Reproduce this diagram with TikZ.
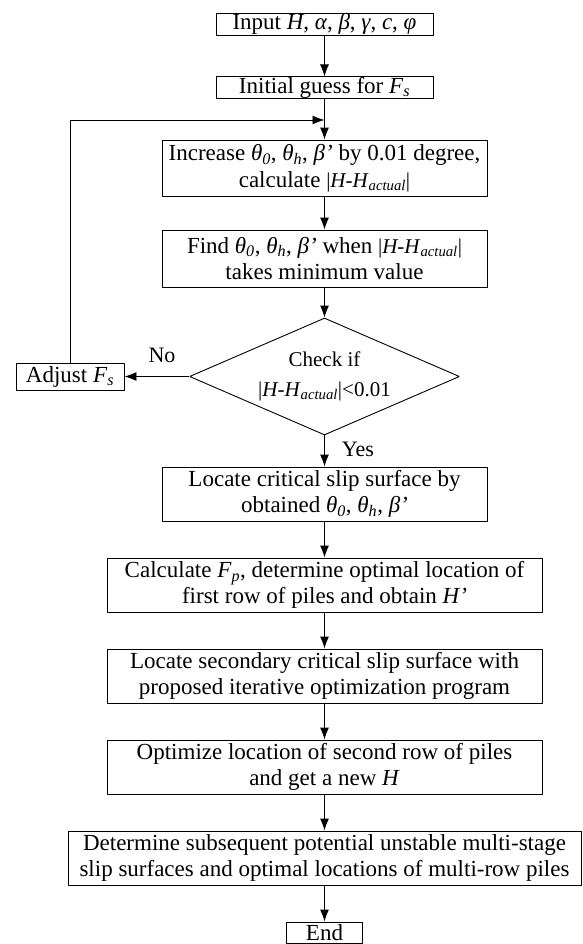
\documentclass[tikz,border=0pt]{standalone}
\usepackage{fontspec}
\setmainfont{Liberation Serif}
\usetikzlibrary{arrows.meta}
\usetikzlibrary{shapes.geometric}
\newcommand{\hdiff}{{\fontsize{21bp}{26bp}\selectfont|\textit{H-H}\textsubscript{\textit{actual}}|}}
\newcommand{\angset}{\textit{θ}\textsubscript{\textit{0}}, \textit{θ}\textsubscript{\textit{h}}, \textit{β’}}

\begin{document}
\begin{tikzpicture}[>={Latex[length=12bp,width=9bp]},line join=bevel,
  procbox/.style={draw,line width=0.9bp,inner sep=0pt,align=center,font=\fontsize{23bp}{26.5bp}\selectfont},
  decbox/.style={draw,diamond,shape aspect=2.3,line width=0.9bp,inner sep=0pt,align=center,font=\fontsize{21bp}{30bp}\selectfont},
  flow/.style={->,line width=0.9bp},
  lbl/.style={font=\fontsize{22bp}{26bp}\selectfont}]
\useasboundingbox (0bp,0bp) rectangle (583bp,-944bp);
%%
\node (n_input) at (324.5bp,-24bp) [procbox,minimum width=217bp,minimum height=22bp] {Input \textit{H}, \textit{α}, \textit{β}, \textit{γ}, \textit{c}, \textit{φ}};
  \node (n_guess) at (324.5bp,-87.5bp) [procbox,minimum width=217bp,minimum height=21bp] {Initial guess for \textit{F}\textsubscript{\textit{s}}};
  \node (n_incr) at (324.5bp,-168bp) [procbox,minimum width=325bp,minimum height=56bp] {Increase \angset{} by 0.01 degree,\\calculate \hdiff};
  \node (n_find) at (324.5bp,-258.5bp) [procbox,minimum width=325bp,minimum height=57bp] {Find \angset{} when \hdiff\\takes minimum value};
  \node (n_check) at (324.5bp,-376.5bp) [decbox,minimum width=270bp,minimum height=117bp] {Check if\\\hdiff<0.01};
  \node (n_adjust) at (70bp,-376.5bp) [procbox,minimum width=108bp,minimum height=27bp] {Adjust \textit{F}\textsubscript{\textit{s}}};
  \node (n_crit) at (324.5bp,-494bp) [procbox,minimum width=325bp,minimum height=54bp] {Locate critical slip surface by\\obtained \angset};
  \node (n_calc) at (324.5bp,-585bp) [procbox,minimum width=435bp,minimum height=54bp] {Calculate \textit{F}\textsubscript{\textit{p}}, determine optimal location of\\first row of piles and obtain \textit{H’}};
  \node (n_second) at (324.5bp,-676bp) [procbox,minimum width=435bp,minimum height=54bp] {Locate secondary critical slip surface with\\proposed iterative optimization program};
  \node (n_optim) at (324.5bp,-767bp) [procbox,minimum width=435bp,minimum height=54bp] {Optimize location of second row of piles\\and get a new \textit{H}};
  \node (n_multi) at (324.5bp,-858bp) [procbox,minimum width=513bp,minimum height=54bp] {Determine subsequent potential unstable multi-stage\\slip surfaces and optimal locations of multi-row piles};
  \node (n_end) at (324.5bp,-932.5bp) [procbox,text depth=0pt,minimum width=76bp,minimum height=21bp] {End};
  \coordinate (loop_in) at (324.5bp,-120bp);
  \node (lbl_no) at (162bp,-355bp) [lbl] {No};
  \node (lbl_yes) at (358bp,-449bp) [lbl] {Yes};
  \draw [flow] (n_input) -- (n_guess);
  \draw [flow] (n_guess) -- (n_incr);
  \draw [flow] (n_incr) -- (n_find);
  \draw [flow] (n_find) -- (n_check);
  \draw [flow] (n_check) -- (n_crit);
  \draw [flow] (n_check) -- (n_adjust);
  \draw [flow] (n_adjust.north) |- (loop_in);
  \draw [flow] (n_crit) -- (n_calc);
  \draw [flow] (n_calc) -- (n_second);
  \draw [flow] (n_second) -- (n_optim);
  \draw [flow] (n_optim) -- (n_multi);
  \draw [flow] (n_multi) -- (n_end);
%
\end{tikzpicture}
\end{document}
